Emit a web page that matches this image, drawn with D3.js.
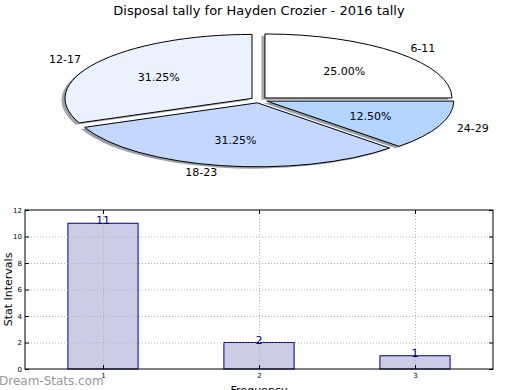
<!DOCTYPE html>
<html>
<head>
<meta charset="utf-8">
<script src="https://cdn.jsdelivr.net/npm/d3@7"></script>
<style>
  body { margin: 0; background: #fff; }
  svg { display: block; font-family: "DejaVu Sans", sans-serif; }
</style>
</head>
<body>
<div id="chart"></div>
<script>
// pie data
const pieLabels = ["6-11", "12-17", "18-23", "24-29"];
const pieValues = [25.0, 31.25, 31.25, 12.5];
const pieColors = ["#ffffff", "#eaf2ff", "#c4d8ff", "#b4d5ff"];

// bar data
const barCats = [1, 2, 3];
const barValues = [11, 2, 1];
const yTicks = [0, 2, 4, 6, 8, 10, 12];

const W = 520, H = 390;
const svg = d3.select("#chart").append("svg")
  .attr("width", W)
  .attr("height", H);

svg.append("text")
  .attr("x", 259).attr("y", 15)
  .attr("text-anchor", "middle")
  .attr("font-size", 13)
  .text("Disposal tally for Hayden Crozier - 2016 tally");

// ---- pie (matplotlib-style: ccw from 3 o'clock, stretched into an ellipse)
const cx = 259, cy = 100, rx = 187, ry = 64, explode = 0.045;
const total = d3.sum(pieValues);
let acc = 0;
const slices = pieValues.map((v, i) => {
  const t1 = acc / total * 2 * Math.PI;
  acc += v;
  const t2 = acc / total * 2 * Math.PI;
  const mid = (t1 + t2) / 2;
  return {
    label: pieLabels[i], value: v, color: pieColors[i], mid,
    // d3 angles: 0 at 12 o'clock, clockwise
    startAngle: Math.PI / 2 - t2, endAngle: Math.PI / 2 - t1,
    ox: cx + explode * rx * Math.cos(mid),
    oy: cy - explode * ry * Math.sin(mid)
  };
});

const arc = d3.arc().innerRadius(0).outerRadius(rx);
const pieG = svg.append("g");

// shadows below all wedges
pieG.selectAll("path.shadow")
  .data(slices)
  .join("path")
    .attr("class", "shadow")
    .attr("d", d => arc(d))
    .attr("transform", d => `translate(${d.ox - 3.5},${d.oy + 1.8}) scale(1,${ry / rx})`)
    .attr("fill", d => { const c = d3.rgb(d.color); return d3.rgb(c.r * 0.3, c.g * 0.3, c.b * 0.3); })
    .attr("fill-opacity", 0.5);

pieG.selectAll("path.wedge")
  .data(slices)
  .join("path")
    .attr("class", "wedge")
    .attr("d", d => arc(d))
    .attr("transform", d => `translate(${d.ox},${d.oy}) scale(1,${ry / rx})`)
    .attr("fill", d => d.color)
    .attr("stroke", "#000")
    .attr("stroke-width", 1)
    .attr("vector-effect", "non-scaling-stroke")
    .attr("stroke-linejoin", "round");

pieG.selectAll("text.lbl")
  .data(slices)
  .join("text")
    .attr("class", "lbl")
    .attr("x", d => d.ox + 1.1 * rx * Math.cos(d.mid))
    .attr("y", d => d.oy - 1.1 * ry * Math.sin(d.mid))
    .attr("dy", "0.35em")
    .attr("text-anchor", d => Math.cos(d.mid) > 0 ? "start" : "end")
    .attr("font-size", 11)
    .text(d => d.label);

pieG.selectAll("text.pct")
  .data(slices)
  .join("text")
    .attr("class", "pct")
    .attr("x", d => d.ox + 0.6 * rx * Math.cos(d.mid))
    .attr("y", d => d.oy - 0.6 * ry * Math.sin(d.mid))
    .attr("dy", "0.35em")
    .attr("text-anchor", "middle")
    .attr("font-size", 11)
    .text(d => d.value.toFixed(2) + "%");

// ---- bar chart
const m = { left: 25, right: 493, top: 210, bottom: 369 };
const x = d3.scaleLinear().domain([0.5, 3.5]).range([m.left, m.right]);
const y = d3.scaleLinear().domain([0, 12]).range([m.bottom, m.top]);
const bw = x(1.45) - x(1);

const barG = svg.append("g");

barG.selectAll("rect")
  .data(barValues)
  .join("rect")
    .attr("x", (d, i) => x(barCats[i]) - bw / 2)
    .attr("y", d => y(d))
    .attr("width", bw)
    .attr("height", d => y(0) - y(d))
    .attr("fill", "#ccccE6")
    .attr("stroke", "#000080")
    .attr("stroke-width", 1);

// dotted grid on top of bars
const grid = barG.append("g")
  .attr("stroke", "#b0b0b0")
  .attr("stroke-width", 1)
  .attr("stroke-dasharray", "1,2");
grid.selectAll("line.h")
  .data(yTicks.slice(1, -1))
  .join("line")
    .attr("x1", m.left).attr("x2", m.right)
    .attr("y1", d => y(d) + 0.5).attr("y2", d => y(d) + 0.5);
grid.selectAll("line.v")
  .data(barCats)
  .join("line")
    .attr("x1", d => x(d) + 0.5).attr("x2", d => x(d) + 0.5)
    .attr("y1", m.top).attr("y2", m.bottom);

barG.selectAll("text.val")
  .data(barValues)
  .join("text")
    .attr("class", "val")
    .attr("x", (d, i) => x(barCats[i]))
    .attr("y", d => y(d) + 1)
    .attr("text-anchor", "middle")
    .attr("font-size", 11)
    .attr("fill", "#000080")
    .text(d => d);

// axes with inward ticks
const yAxis = d3.axisLeft(y).tickValues(yTicks).tickSizeInner(-4).tickSizeOuter(0).tickPadding(3);
const yAxisR = d3.axisRight(y).tickValues(yTicks).tickSizeInner(-4).tickSizeOuter(0).tickFormat("");
const xAxis = d3.axisBottom(x).tickValues(barCats).tickFormat(d3.format("d")).tickSizeInner(-4).tickSizeOuter(0).tickPadding(4);
const xAxisT = d3.axisTop(x).tickValues(barCats).tickSizeInner(-4).tickSizeOuter(0).tickFormat("");

function styleAxis(g) {
  g.select(".domain").remove();
  g.selectAll("text").attr("font-size", 7).attr("font-family", "DejaVu Sans, sans-serif").attr("fill", "#000");
  g.selectAll("line").attr("stroke", "#000");
}
barG.append("g").attr("transform", `translate(${m.left},0)`).call(yAxis).call(styleAxis);
barG.append("g").attr("transform", `translate(${m.right},0)`).call(yAxisR).call(styleAxis);
barG.append("g").attr("transform", `translate(0,${m.bottom})`).call(xAxis).call(styleAxis);
barG.append("g").attr("transform", `translate(0,${m.top})`).call(xAxisT).call(styleAxis);

barG.append("rect")
  .attr("x", m.left).attr("y", m.top)
  .attr("width", m.right - m.left).attr("height", m.bottom - m.top)
  .attr("fill", "none").attr("stroke", "#000").attr("stroke-width", 1);

svg.append("text")
  .attr("transform", `translate(8,${(m.top + m.bottom) / 2}) rotate(-90)`)
  .attr("text-anchor", "middle")
  .attr("dy", "0.35em")
  .attr("font-size", 11)
  .text("Stat Intervals");

svg.append("text")
  .attr("x", (m.left + m.right) / 2).attr("y", 394)
  .attr("text-anchor", "middle")
  .attr("font-size", 11)
  .text("Frequency");

svg.append("text")
  .attr("x", -1).attr("y", 385)
  .attr("font-size", 12)
  .attr("fill", "#999")
  .text("Dream-Stats.com");
</script>
</body>
</html>
